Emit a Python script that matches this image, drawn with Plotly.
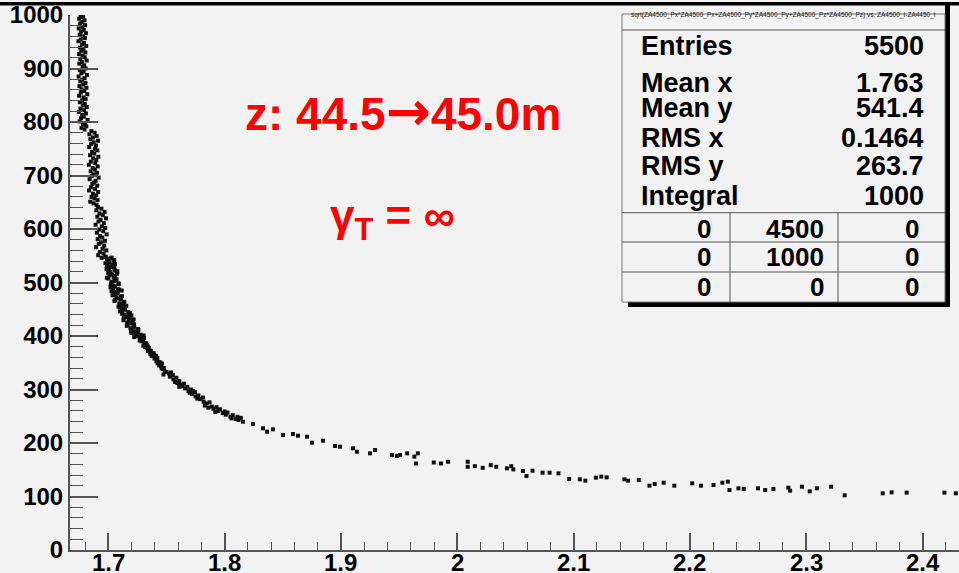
import plotly.graph_objects as go

# ---- scatter data: momentum vs. time of flight ----
# dense column near the high-momentum limit
col1_x = [1.6762, 1.6784, 1.6750, 1.6795, 1.6772, 1.6758, 1.6801, 1.6778, 1.6746, 1.6789,
          1.6767, 1.6808, 1.6754, 1.6782, 1.6799, 1.6763, 1.6744, 1.6791, 1.6775, 1.6810,
          1.6757, 1.6786, 1.6768, 1.6803, 1.6748, 1.6779, 1.6797, 1.6760, 1.6814, 1.6773,
          1.6751, 1.6793, 1.6780, 1.6806, 1.6755, 1.6788, 1.6769, 1.6817, 1.6745, 1.6796,
          1.6777, 1.6759, 1.6804, 1.6785, 1.6752, 1.6812, 1.6771, 1.6794, 1.6764, 1.6820,
          1.6749, 1.6787, 1.6805, 1.6774, 1.6756, 1.6798, 1.6781, 1.6815, 1.6761, 1.6792,
          1.6747, 1.6808, 1.6776, 1.6790, 1.6766, 1.6822, 1.6753, 1.6800, 1.6783, 1.6811,
          1.6770, 1.6796]
col1_y = [999, 996, 993, 990, 987, 984, 981, 978, 975, 972,
          969, 966, 963, 960, 957, 954, 951, 948, 945, 942,
          939, 936, 933, 930, 927, 924, 921, 918, 915, 912,
          909, 906, 903, 900, 897, 894, 891, 888, 885, 882,
          879, 876, 873, 870, 867, 864, 861, 858, 855, 852,
          849, 846, 843, 840, 837, 834, 831, 828, 825, 822,
          819, 816, 813, 810, 807, 804, 801, 798, 795, 792,
          789, 786]

col2_x = [1.6855, 1.6882, 1.6838, 1.6900, 1.6868, 1.6846, 1.6912, 1.6875, 1.6853, 1.6894,
          1.6836, 1.6886, 1.6906, 1.6861, 1.6879, 1.6843, 1.6915, 1.6871, 1.6897, 1.6850,
          1.6888, 1.6833, 1.6909, 1.6866, 1.6884, 1.6848, 1.6903, 1.6873, 1.6858, 1.6917,
          1.6840, 1.6891, 1.6877, 1.6863, 1.6905, 1.6851, 1.6887, 1.6835, 1.6913, 1.6869,
          1.6896, 1.6856, 1.6881, 1.6908, 1.6845, 1.6874, 1.6899]
col2_y = [783, 780, 777, 774, 771, 768, 765, 762, 759, 756,
          753, 750, 747, 744, 741, 738, 735, 732, 729, 726,
          723, 720, 717, 714, 711, 708, 705, 702, 699, 696,
          693, 690, 687, 684, 681, 678, 675, 672, 669, 666,
          663, 660, 657, 654, 651, 648, 645]

col3_x = [1.6912, 1.6941, 1.6898, 1.6968, 1.6925, 1.6953, 1.6906, 1.6980, 1.6934, 1.6916,
          1.6962, 1.6891, 1.6945, 1.6974, 1.6921, 1.6957, 1.6902, 1.6986, 1.6930, 1.6948,
          1.6909, 1.6971, 1.6937, 1.6918, 1.6965, 1.6895, 1.6951, 1.6983, 1.6927, 1.6959,
          1.6913, 1.6977, 1.6943]
col3_y = [641, 638, 635, 632, 629, 626, 623, 620, 617, 614,
          611, 608, 605, 602, 599, 596, 593, 590, 587, 584,
          581, 578, 575, 572, 569, 566, 563, 560, 557, 554,
          551, 548, 546]

# steep part of the curve
band1_x = [1.6976, 1.7018, 1.7051, 1.7003, 1.6976, 1.7038, 1.7020, 1.7053, 1.7006, 1.7078,
           1.7000, 1.7033, 1.7056, 1.6988, 1.7071, 1.7053, 1.7026, 1.7090, 1.7045, 1.7019,
           1.7083, 1.7116, 1.7050, 1.7073, 1.7037, 1.7110, 1.7094, 1.7058, 1.7138, 1.7095,
           1.7132, 1.7088, 1.7135,
           1.7029, 1.6990, 1.7047, 1.7010, 1.7057, 1.6989, 1.7032, 1.6985, 1.7057, 1.7019,
           1.7076, 1.7010, 1.7047, 1.7000, 1.7064, 1.7034, 1.7088, 1.7022, 1.7058, 1.7041,
           1.7094, 1.7028, 1.7082, 1.7055, 1.7118, 1.7071, 1.7108, 1.7053, 1.7131, 1.7108,
           1.7155, 1.7100]
band1_y = [548, 545, 542, 539, 536, 533, 530, 527, 524, 521,
           518, 515, 512, 509, 506, 503, 500, 497, 494, 491,
           488, 485, 482, 479, 476, 473, 470, 467, 464, 461,
           458, 455, 452,
           546.5, 543.5, 540.5, 537.5, 534.5, 531.5, 528.5, 525.5, 522.5, 519.5,
           516.5, 513.5, 510.5, 507.5, 504.5, 501.5, 498.5, 495.5, 492.5, 489.5,
           486.5, 483.5, 480.5, 477.5, 474.5, 471.5, 468.5, 465.5, 462.5, 459.5,
           456.5, 453.5]

band2_x = [1.7145, 1.7101, 1.7186, 1.7142, 1.7177, 1.7133, 1.7218, 1.7175, 1.7163, 1.7221,
           1.7159, 1.7217, 1.7255, 1.7194, 1.7254, 1.7233, 1.7303, 1.7222, 1.7272,
           1.7118, 1.7173, 1.7119, 1.7199, 1.7155, 1.7185, 1.7131, 1.7209, 1.7197, 1.7165,
           1.7223, 1.7191, 1.7259, 1.7229, 1.7198, 1.7278, 1.7247, 1.7307]
band2_y = [449, 446, 443, 440, 437, 434, 431, 428, 425, 422,
           419, 416, 413, 410, 407, 404, 401, 398, 395,
           447.5, 444.5, 441.5, 438.5, 435.5, 432.5, 429.5, 426.5, 423.5, 420.5,
           417.5, 414.5, 411.5, 408.5, 405.5, 402.5, 399.5, 396.5]

band3_x = [1.7270, 1.7278, 1.7286, 1.7294, 1.7302, 1.7310, 1.7318, 1.7326, 1.7334, 1.7342,
           1.7350, 1.7358, 1.7366, 1.7374, 1.7382, 1.7390, 1.7398, 1.7406, 1.7414, 1.7422,
           1.7430, 1.7438, 1.7446, 1.7454, 1.7462, 1.7470, 1.7478, 1.7486,
           1.7300, 1.7330, 1.7362, 1.7395, 1.7425, 1.7458, 1.7340, 1.7410]
band3_y = [391.5, 398.4, 390.2, 392.0, 381.9, 386.7, 379.5, 386.4, 378.2, 372.0,
           377.8, 369.7, 372.5, 362.3, 366.2, 368.0, 357.8, 360.7, 352.5, 358.3,
           351.2, 345.0, 350.8, 343.6, 348.5, 338.3, 340.1, 333.0,
           395.0, 383.5, 366.0, 364.5, 349.0, 339.5, 380.5, 363.0]

# knee of the curve
band4_x = [1.7500, 1.7475, 1.7520, 1.7530, 1.7555, 1.7560, 1.7585, 1.7575, 1.7610, 1.7625,
           1.7610, 1.7650, 1.7660, 1.7680, 1.7690, 1.7710, 1.7720, 1.7745, 1.7750, 1.7775,
           1.7790, 1.7815, 1.7820, 1.7540, 1.7595, 1.7640, 1.7700, 1.7765, 1.7730]
band4_y = [333, 328, 330, 324, 327, 319, 322, 314, 316, 309,
           305, 311, 302, 305, 297, 300, 292, 295, 287, 289,
           282, 285, 277, 332, 312, 306, 294, 283, 297]

band5_x = [1.7845, 1.7830, 1.7870, 1.7890, 1.7905, 1.7930, 1.7945, 1.7960, 1.7985, 1.8010,
           1.8025, 1.8050, 1.8070, 1.8095, 1.8120, 1.8140, 1.7860, 1.7920, 1.8000, 1.8060,
           1.8110]
band5_y = [274, 270, 276, 268, 264, 267, 260, 263, 256, 253,
           257, 249, 252, 245, 243, 247, 266, 258, 259, 246,
           249]

# sparse low-momentum tail
tail_x = [1.8158, 1.8244, 1.8330, 1.8365, 1.8416, 1.8502, 1.8588, 1.8631, 1.8708, 1.8751,
          1.8846, 1.8949, 1.8992, 1.9104, 1.9138, 1.9250, 1.9293, 1.9439, 1.9482, 1.9508,
          1.9569, 1.9631, 1.9661, 1.9645, 1.9798, 1.9860, 1.9921, 2.0090, 2.0090, 2.0151,
          2.0219, 2.0288, 2.0335, 2.0427, 2.0464, 2.0482, 2.0564, 2.0595, 2.0647, 2.0733,
          2.0794, 2.0870, 2.0962, 2.1054, 2.1101, 2.1192, 2.1238, 2.1284, 2.1437, 2.1468,
          2.1560, 2.1652, 2.1697, 2.1774, 2.1866, 2.2019, 2.2095, 2.2203, 2.2279, 2.2326,
          2.2340, 2.2417, 2.2463, 2.2585, 2.2647, 2.2718, 2.2846, 2.2861, 2.2963, 2.3030,
          2.3091, 2.3214, 2.3330, 2.3657, 2.3734, 2.3863, 2.4188, 2.4286]
tail_y = [239.8, 235.5, 227.5, 221.1, 225.6, 215.0, 216.8, 213.6, 211.8, 200.6,
          204.3, 194.4, 193.1, 190.1, 183.7, 180.7, 186.9, 177.6, 175.7, 177.6,
          180.7, 174.5, 180.7, 161.7, 163.6, 161.7, 164.9, 164.9, 155.5, 156.7,
          153.6, 158.6, 155.5, 152.6, 156.7, 150.7, 147.6, 138.3, 148.2, 144.5,
          144.5, 143.3, 132.7, 132.1, 129.6, 135.2, 137.1, 135.8, 132.1, 129.6,
          130.8, 120.2, 123.4, 125.8, 120.2, 124.6, 120.2, 121.5, 125.8, 127.7,
          112.1, 115.3, 114.0, 115.3, 112.1, 114.0, 116.5, 110.9, 118.3, 109.7,
          115.3, 118.3, 102.2, 106.0, 107.8, 107.2, 107.2, 106.0]

# ---- axis ticks ----
x_ticks = [1.7, 1.8, 1.9, 2.0, 2.1, 2.2, 2.3, 2.4]
x_tick_text = ["1.7", "1.8", "1.9", "2", "2.1", "2.2", "2.3", "2.4"]
y_ticks = [0, 100, 200, 300, 400, 500, 600, 700, 800, 900, 1000]
y_tick_text = [str(v) for v in y_ticks]

# ---- statistics box ----
hist_title = "sqrt(ZA4500_Px*ZA4500_Px+ZA4500_Py*ZA4500_Py+ZA4500_Pz*ZA4500_Pz) vs. ZA4500_t-ZA4450_t"
stat_names = ["Entries", "Mean x", "Mean y", "RMS x", "RMS y", "Integral"]
stat_values = ["5500", "1.763", "541.4", "0.1464", "263.7", "1000"]
overflow_table = [["0", "4500", "0"],
                  ["0", "1000", "0"],
                  ["0", "0", "0"]]

BG = "#f2f2f2"
AXIS = "#555555"
FONT = "Liberation Sans, Arial, Helvetica, sans-serif"

W, H = 959, 573
L, R, T, B = 70, 0, 15, 23
PW, PH = W - L - R, H - T - B


def px(xp):
    return (xp - L) / PW


def py(yp):
    return (H - B - yp) / PH


xs = col1_x + col2_x + col3_x + band1_x + band2_x + band3_x + band4_x + band5_x + tail_x
ys = col1_y + col2_y + col3_y + band1_y + band2_y + band3_y + band4_y + band5_y + tail_y

fig = go.Figure()
fig.add_trace(go.Scatter(
    x=xs, y=ys, mode="markers",
    marker=dict(symbol="square", size=4, color="#111111", line=dict(width=0)),
    hoverinfo="skip", showlegend=False,
))

shapes = []
# heavy rule along the top of the canvas
shapes.append(dict(type="rect", xref="paper", yref="paper",
                   x0=px(0), x1=px(W), y0=py(5.5), y1=py(2),
                   fillcolor="black", line=dict(width=0), layer="above"))
# stats box shadow
shapes.append(dict(type="rect", xref="paper", yref="paper",
                   x0=px(945), x1=px(950), y0=py(307), y1=py(5),
                   fillcolor="black", line=dict(width=0), layer="above"))
shapes.append(dict(type="rect", xref="paper", yref="paper",
                   x0=px(628), x1=px(950), y0=py(307), y1=py(302),
                   fillcolor="black", line=dict(width=0), layer="above"))
# stats box body
shapes.append(dict(type="rect", xref="paper", yref="paper",
                   x0=px(622), x1=px(945), y0=py(302), y1=py(14),
                   fillcolor=BG, line=dict(color="#777777", width=1), layer="above"))
# title separator and table grid
for yline in (30, 212.7, 242, 272):
    shapes.append(dict(type="line", xref="paper", yref="paper",
                       x0=px(622), x1=px(945), y0=py(yline), y1=py(yline),
                       line=dict(color="#555555", width=1), layer="above"))
for xline in (730, 838):
    shapes.append(dict(type="line", xref="paper", yref="paper",
                       x0=px(xline), x1=px(xline), y0=py(302), y1=py(212.7),
                       line=dict(color="#555555", width=1), layer="above"))

annotations = []
annotations.append(dict(xref="paper", yref="paper", x=px(783), y=py(15),
                        text=hist_title, showarrow=False, xanchor="center", yanchor="middle",
                        font=dict(family=FONT, size=6.5, color="#222222")))

row_y = [46, 83.5, 108, 138, 165.5, 196]
for name, val, yy in zip(stat_names, stat_values, row_y):
    annotations.append(dict(xref="paper", yref="paper", x=px(639), y=py(yy), text=name,
                            showarrow=False, xanchor="left", yanchor="middle",
                            font=dict(family=FONT, size=27, color="black", weight="bold")))
    annotations.append(dict(xref="paper", yref="paper", x=px(926), y=py(yy), text=val,
                            showarrow=False, xanchor="right", yanchor="middle",
                            font=dict(family=FONT, size=27, color="black", weight="bold")))

cell_right = [713, 826, 921]
cell_y = [228.5, 257, 287]
for row, yy in zip(overflow_table, cell_y):
    for cell, xr in zip(row, cell_right):
        annotations.append(dict(xref="paper", yref="paper", x=px(xr), y=py(yy), text=cell,
                                showarrow=False, xanchor="right", yanchor="middle",
                                font=dict(family=FONT, size=26, color="black", weight="bold")))

# x tick labels sit tight under the axis line
for tv, tt in zip(x_ticks, x_tick_text):
    annotations.append(dict(xref="x", yref="paper", x=tv, y=py(562.5), text=tt,
                            showarrow=False, xanchor="center", yanchor="middle",
                            font=dict(family=FONT, size=24, color="black", weight="bold")))

arrow = '<span style="font-family:DejaVu Sans;font-size:54px">\u2192</span>'
annotations.append(dict(xref="paper", yref="paper", x=px(402.5), y=py(111),
                        text="z: 44.5" + arrow + "45.0m", showarrow=False,
                        xanchor="center", yanchor="middle",
                        font=dict(family=FONT, size=46, color="#ff0000", weight="bold")))
annotations.append(dict(xref="paper", yref="paper", x=px(392.5), y=py(219),
                        text="\u03b3<sub>T</sub> = \u221e", showarrow=False,
                        xanchor="center", yanchor="middle",
                        font=dict(family=FONT, size=44, color="#ff0000", weight="bold")))

fig.update_layout(
    width=W, height=H,
    margin=dict(l=L, r=R, t=T, b=B, pad=0, autoexpand=False),
    paper_bgcolor=BG, plot_bgcolor=BG,
    shapes=shapes, annotations=annotations,
    showlegend=False,
)

fig.update_xaxes(
    range=[1.6671, 2.4313], showgrid=False, zeroline=False, automargin=False,
    showline=True, linecolor=AXIS, linewidth=2, mirror=False,
    tickvals=x_ticks, showticklabels=False,
    ticks="inside", ticklen=17, tickwidth=1.5, tickcolor=AXIS,
    minor=dict(dtick=0.02, tick0=1.7, ticks="inside", ticklen=8, tickwidth=1.2, tickcolor=AXIS),
)
fig.update_yaxes(
    range=[0, 1000], showgrid=False, zeroline=False, automargin=False,
    showline=True, linecolor=AXIS, linewidth=2, mirror=False,
    tickvals=y_ticks, ticktext=y_tick_text,
    ticks="inside", ticklen=28, tickwidth=1.5, tickcolor=AXIS,
    minor=dict(dtick=20, tick0=0, ticks="inside", ticklen=13, tickwidth=1.2, tickcolor=AXIS),
    tickfont=dict(family=FONT, size=24, color="black", weight="bold"),
)

fig.write_html("out.html")
